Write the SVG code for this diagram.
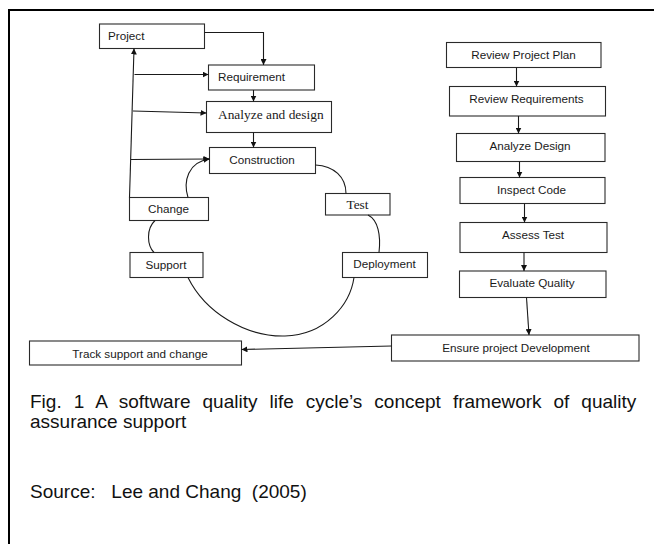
<svg xmlns="http://www.w3.org/2000/svg" width="654" height="544" viewBox="0 0 654 544">
  <style>
    .box { fill: #ffffff; stroke: #2a2a2a; stroke-width: 1.1; }
    .lbl { font-family: "Liberation Sans", Arial, sans-serif; font-size: 11.7px; fill: #1a1a1a; }
    .ser { font-family: "Liberation Serif", "Times New Roman", serif; font-size: 13.4px; fill: #1a1a1a; }
    .mid { text-anchor: middle; }
    .edge { fill: none; stroke: #1a1a1a; stroke-width: 1.1; }
    .cap { font-family: "Liberation Sans", Arial, sans-serif; font-size: 19px; fill: #111111; }
  </style>
  <defs>
    <marker id="arrow" viewBox="0 0 10 10" refX="10" refY="5" markerWidth="6" markerHeight="6" markerUnits="userSpaceOnUse" orient="auto">
      <path d="M0,0 L10,5 L0,10 z" fill="#111111"/>
    </marker>
  </defs>

  <rect width="654" height="544" fill="#ffffff"/>
  <!-- page frame -->
  <path d="M9,544 V10 H654" fill="none" stroke="#000000" stroke-width="2"/>

  <!-- left cycle -->
  <g id="project"><rect class="box" x="99.5" y="24" width="105" height="24.5"/><text class="lbl" x="108" y="40">Project</text></g>
  <g id="requirement"><rect class="box" x="208.5" y="65" width="106" height="25"/><text class="lbl" x="218" y="81">Requirement</text></g>
  <g id="analyze-and-design"><rect class="box" x="206.5" y="101.5" width="125" height="31"/><text class="ser" x="218" y="118.5">Analyze and design</text></g>
  <g id="construction"><rect class="box" x="209.5" y="147.5" width="106" height="26"/><text class="lbl mid" x="262" y="163.5">Construction</text></g>
  <g id="change"><rect class="box" x="129.5" y="197.5" width="79" height="23"/><text class="lbl mid" x="168.5" y="213">Change</text></g>
  <g id="test"><rect class="box" x="325.5" y="193.5" width="64.5" height="21.5"/><text class="ser mid" x="357.5" y="209">Test</text></g>
  <g id="support"><rect class="box" x="130" y="252.5" width="73" height="25"/><text class="lbl mid" x="166" y="269">Support</text></g>
  <g id="deployment"><rect class="box" x="342.5" y="252.5" width="85" height="25"/><text class="lbl mid" x="384.5" y="268">Deployment</text></g>
  <g id="track-support"><rect class="box" x="29.5" y="341" width="212" height="24"/><text class="lbl mid" x="140" y="357.5">Track support and change</text></g>

  <!-- right review chain -->
  <g id="review-plan"><rect class="box" x="446.5" y="42.5" width="154.5" height="25"/><text class="lbl mid" x="523.5" y="58.5">Review Project Plan</text></g>
  <g id="review-req"><rect class="box" x="449.5" y="86.5" width="156" height="29.5"/><text class="lbl mid" x="526.5" y="102.5">Review Requirements</text></g>
  <g id="analyze-design"><rect class="box" x="456.5" y="133.5" width="148.5" height="28"/><text class="lbl mid" x="530" y="149.5">Analyze Design</text></g>
  <g id="inspect-code"><rect class="box" x="460" y="177.5" width="145" height="26"/><text class="lbl mid" x="531.5" y="193.5">Inspect Code</text></g>
  <g id="assess-test"><rect class="box" x="460" y="222.5" width="147" height="30"/><text class="lbl mid" x="533" y="238.5">Assess Test</text></g>
  <g id="evaluate-quality"><rect class="box" x="459.5" y="271" width="146.5" height="26.5"/><text class="lbl mid" x="532" y="287">Evaluate Quality</text></g>
  <g id="ensure-dev"><rect class="box" x="391.5" y="335" width="247.5" height="26"/><text class="lbl mid" x="516" y="352">Ensure project Development</text></g>

  <g id="connectors">
    <!-- feedback spine back to Project -->
    <path class="edge" d="M129.5,197.5 L134,48.5" marker-end="url(#arrow)"/>
    <path class="edge" d="M134.5,74.5 L208.5,74.5" marker-end="url(#arrow)"/>
    <path class="edge" d="M133,111 L206.5,113" marker-end="url(#arrow)"/>
    <path class="edge" d="M131,159.5 L209.5,159" marker-end="url(#arrow)"/>
    <!-- forward flow -->
    <path class="edge" d="M204.5,32.5 H263.5 V65" marker-end="url(#arrow)"/>
    <path class="edge" d="M253.5,90 V101.5" marker-end="url(#arrow)"/>
    <path class="edge" d="M253.5,132.5 V147.5" marker-end="url(#arrow)"/>
    <!-- cycle curves -->
    <path class="edge" d="M315.5,165 C334,166 346,177 346,193.5"/>
    <path class="edge" d="M368,215 C378,220 381,235 379,252.5"/>
    <path class="edge" d="M354,277.5 C350,305 325,335 285,336 C245,337 205,312 188,277.5"/>
    <path class="edge" d="M154,252.5 C147,245 146,229 155,220.5"/>
    <path class="edge" d="M188,197.5 C183,181 188,162 209.5,159" marker-end="url(#arrow)"/>
    <!-- review chain -->
    <path class="edge" d="M516.5,67.5 V86.5" marker-end="url(#arrow)"/>
    <path class="edge" d="M518.5,116 V133.5" marker-end="url(#arrow)"/>
    <path class="edge" d="M519.5,161.5 V177.5" marker-end="url(#arrow)"/>
    <path class="edge" d="M524.5,203.5 V222.5" marker-end="url(#arrow)"/>
    <path class="edge" d="M524,252.5 V271" marker-end="url(#arrow)"/>
    <path class="edge" d="M526.5,297.5 L529,335" marker-end="url(#arrow)"/>
    <path class="edge" d="M391.5,346 L241.5,349.5" stroke="#444444" marker-end="url(#arrow)"/>
  </g>

  <!-- caption -->
  <text class="cap" x="30" y="408" word-spacing="6.7">Fig. 1 A software quality life cycle’s concept framework of quality</text>
  <text class="cap" x="30" y="428">assurance support</text>
  <text class="cap" x="30" y="498" style="white-space:pre">Source:   Lee and Chang  (2005)</text>
</svg>
